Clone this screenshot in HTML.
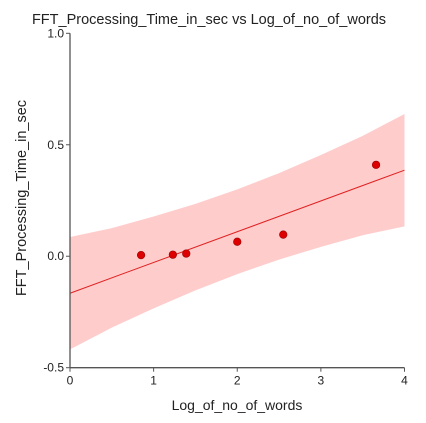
<!DOCTYPE html>
<html><head><meta charset="utf-8"><style>
body{margin:0;background:#fff;width:426px;height:418px;overflow:hidden}
svg text{font-family:"Liberation Sans",Arial,sans-serif;fill:#222}
</style></head><body>
<svg id="chart" width="426" height="418">
<text x="209" y="24" font-size="14.5" text-anchor="middle">FFT_Processing_Time_in_sec vs Log_of_no_of_words</text>
<g id="band"></g>
<g id="fit"></g>
<g id="axes"></g>
<g id="points"></g>
<text x="237" y="410" font-size="14" text-anchor="middle">Log_of_no_of_words</text>
<text transform="translate(26,198) rotate(-90)" font-size="14.5" text-anchor="middle">FFT_Processing_Time_in_sec</text>
</svg>
<script>
const xValues=[0.85,1.23,1.39,2.0,2.55,3.66];
const yValues=[0.005,0.007,0.012,0.065,0.097,0.41];
const bandX=[0,0.5,1,1.5,2,2.5,3,3.5,4];
const bandUpper=[0.086,0.126,0.178,0.235,0.300,0.373,0.454,0.540,0.638];
const bandLower=[-0.418,-0.320,-0.234,-0.153,-0.080,-0.015,0.042,0.094,0.134];
const fitX=[0,4];
const fitY=[-0.166,0.386];
const xTicks=[0,1,2,3,4];
const yTicks=[-0.5,0.0,0.5,1.0];
const yTickLabels=["-0.5","0.0","0.5","1.0"];
const NS="http://www.w3.org/2000/svg";
const sx=v=>70+v*(404.5-70)/4;
const sy=v=>367.7-(v+0.5)*(367.7-33.3)/1.5;
function mk(t,a,p){const e=document.createElementNS(NS,t);for(const k in a)e.setAttribute(k,a[k]);p.appendChild(e);return e;}
const band=document.getElementById('band');
let pts=bandX.map((x,i)=>sx(x)+','+sy(bandUpper[i]));
for(let i=bandX.length-1;i>=0;i--)pts.push(sx(bandX[i])+','+sy(bandLower[i]));
const poly=mk('polygon',{points:pts.join(' '),fill:'#ffcccc'},band);


const fit=document.getElementById('fit');
const ln=mk('line',{x1:sx(fitX[0]),y1:sy(fitY[0]),x2:sx(fitX[1]),y2:sy(fitY[1]),stroke:'#e02020','stroke-width':1},fit);


const ax=document.getElementById('axes');
mk('line',{x1:70,y1:sy(1),x2:70,y2:sy(-0.5),stroke:'#555','stroke-width':1.3},ax);
mk('line',{x1:70,y1:sy(-0.5),x2:sx(4),y2:sy(-0.5),stroke:'#555','stroke-width':1.3},ax);
xTicks.forEach(t=>{
 mk('line',{x1:sx(t),y1:sy(-0.5),x2:sx(t),y2:sy(-0.5)+4,stroke:'#555'},ax);
 const tx=mk('text',{x:sx(t),y:sy(-0.5)+17,'font-size':12,'text-anchor':'middle'},ax);
 tx.textContent=t;
 
 
});
yTicks.forEach((t,i)=>{
 mk('line',{x1:66,y1:sy(t),x2:70,y2:sy(t),stroke:'#555'},ax);
 const tx=mk('text',{x:64,y:sy(t)+4,'font-size':12,'text-anchor':'end'},ax);
 tx.textContent=yTickLabels[i];
 
 
});
const pg=document.getElementById('points');
xValues.forEach((x,i)=>{
 const c=mk('circle',{cx:sx(x),cy:sy(yValues[i]),r:3.8,fill:'#dd0000',stroke:'#990000','stroke-width':0.6},pg);
 
 
});
</script>
</body></html>
